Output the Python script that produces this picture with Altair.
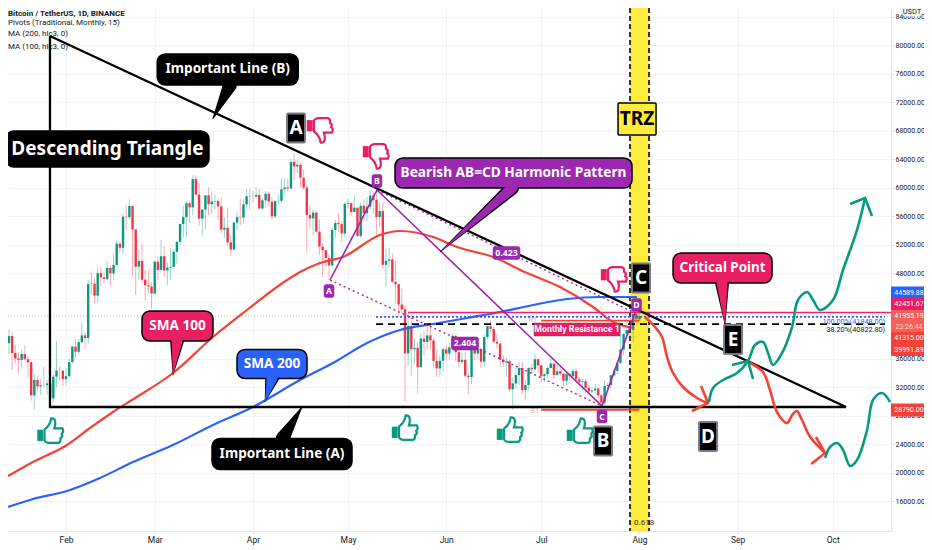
import altair as alt
import pandas as pd

FONT = "Noto Sans"
SMALL = "Roboto"
# day = days since 1 Jan (Feb 1 = 31)
MONTH_DAYS = [31, 59, 90, 120, 151, 181, 212, 243, 273]
MONTH_NAMES = ["Feb", "Mar", "Apr", "May", "Jun", "Jul", "Aug", "Sep", "Oct"]
PRICE_TICKS = list(range(16000, 84001, 4000))
FIRST_DAY = 13

CLOSE = [39150,36770,36000,35800,36620,35900,35470,30830,33000,32080,32260,32250,32500,30400,33450,34300,34300,33100,
33520,35500,37670,36950,38300,39240,38870,46450,46500,44830,47970,47400,47170,48720,47940,49130,52120,51550,55900,55840,57400,54090,48890,49700,47050,46280,46110,45130,
49590,48430,50350,48370,48750,48870,50970,52380,54880,55850,57800,57220,61180,59000,55630,56900,58910,57650,58030,58100,57350,54080,54340,52300,51300,55070,55840,55780,57630,58760,58720,
58720,58950,57050,58200,59120,58020,55950,58080,58130,59770,60000,59860,63580,62950,63200,61370,60000,56150,55660,56470,53800,51700,51190,50100,49070,54030,55030,54860,53550,57700,
57800,56570,57170,53200,57440,56390,57310,58860,58240,55850,56700,49150,49700,49900,46760,46430,43570,42900,36720,40560,37300,37500,34770,38800,38320,39240,38530,35660,34610,35680,37290,
36690,37560,39190,36890,35520,35800,33580,33400,37390,36690,37340,35550,39020,40520,40140,38350,38090,35820,35480,35600,31680,32500,33680,34660,31570,32280,34700,34490,35900,35040,
33520,33800,34670,35290,33690,34220,33860,32870,33810,33510,34260,33090,32730,32820,31880,31380,31520,31780,30840,29790,32140,32290,33640,34260,35380,37270,39460,39990,40020,42230,41500,
41955]
HIGH = [40100,39700,37950,36850,37300,37850,36400,35600,33850,33450,33100,34900,32950,32550,33780,38500,34900,34300,
34650,35950,37700,38700,38800,40950,39700,47000,48200,47300,48650,48900,48100,49700,49000,50650,52600,52450,56350,57500,58350,57500,54200,51350,52050,48400,48400,46700,
49790,50200,52650,51750,49450,51450,51400,52400,54900,57400,58150,58050,61700,61700,60600,56950,58980,60000,59450,59000,58400,58600,55800,57200,53250,55100,56600,58400,58400,59800,59800,
59500,60050,59800,58500,59500,59450,58650,58250,58870,61300,61300,61250,64000,64850,63800,63500,62500,60400,57500,57000,56700,55500,52150,51200,50600,54350,55500,56450,55200,57950,
58450,57950,58950,57200,57900,58350,58650,59500,59300,59600,57900,58000,51400,51500,50700,49800,46000,45800,43550,42450,42200,38850,38250,39500,39800,40900,40400,38900,37250,36400,37500,
37900,38200,39500,39250,37900,36800,36900,34000,37500,38400,37700,37450,39400,41050,41300,40500,39500,38200,36450,36100,35750,33300,34880,35500,35500,33000,34700,35300,36600,36000,
35050,33950,34950,35950,35300,35100,35050,33900,34100,34000,34600,34650,33350,33150,33200,32250,32000,32450,31900,31100,32850,32600,33650,34500,35400,40500,39550,40900,40650,42300,42400,
42600]
LOW = [36700,34400,35350,33850,34800,35850,33400,30070,28850,31400,30900,31900,30900,29200,29900,31950,32850,32200,
32300,33400,35350,36150,36600,38150,37350,38000,45000,43700,43900,46150,46500,47000,46200,47000,48900,50900,50700,54000,55500,47600,44900,47050,46650,44150,45050,43000,
45000,47000,48100,47500,46300,47050,49300,49300,51850,53000,53000,55000,56100,59000,54600,53200,54100,56100,56300,57000,55450,53650,52950,51700,50400,51300,53950,54700,54900,57000,56900,
57900,58500,57000,56800,57150,57350,55500,55700,57650,57800,59000,59400,59850,61000,62000,60000,59600,50900,54200,53350,53650,50500,47500,48750,47000,48800,53000,53800,52350,53000,
57000,56000,56550,53050,52900,55200,55250,56900,56250,53400,54500,48600,46000,48800,46550,43800,42100,42200,30000,35000,33500,35250,31100,34800,36400,37200,37200,34700,33400,33400,34200,
35700,35900,37200,35600,34800,35250,33300,31000,32400,35800,35900,34650,34800,38750,39500,38100,37400,34800,34800,33350,31250,28800,31700,32300,31000,30150,31600,33850,34200,34000,
32700,32700,33300,34700,33100,33550,33700,32100,32250,33000,33300,32700,32200,31550,31150,31000,31150,31100,30500,29300,29450,31700,31900,33400,33800,35250,36400,38800,38700,38300,41000,
41300]

SMA100_D = [12.69,20.58,31.31,38.57,45.83,51.83,64.77,77.40,88.13,100.75,104.86,111.17,118.43,130.11,136.42,146.84,154.42,165.78,176.51,186.93,197.35,203.66,209.97]
SMA100_P = [19509,21474,23860,26246,28492,30176,33965,39018,42808,47018,48141,49404,50246,53334,53895,53053,51649,50246,47999,46036,43228,41123,40281]
SMA200_D = [12.69,20.58,31.31,41.73,52.14,64.77,77.40,90.02,104.86,115.27,126.01,136.42,146.84,157.57,167.99,178.41,189.14,199.56,211.24]
SMA200_P = [15159,16281,17404,19229,21474,23860,26667,29194,32983,35369,38176,40001,40843,41685,42527,43509,44351,44632,44632]

TRI_D = [25.94, 25.94, 277.2, 25.94]
TRI_P = [81263, 29194, 29194, 81263]

AB_D = [114.33, 129.16, 200.19, 210.60]
AB_P = [47018, 59650, 29334, 42386]

RED1_D = [213.76,216.92,219.13,220.71,222.6,225.76,230.18,233.33]
RED1_P = [41825,40421,39018,36211,33965,32001,30457,29755]
RED1_HEAD_D = [231.45,233.65,228.6]
RED1_HEAD_P = [32141,29755,28632]
RED2_D = [246.9,251.0,253.2,255.4,258.6,260.2,261.7,263.3,265.9,270.6]
RED2_P = [35369,34106,31580,28492,26948,28071,28632,27369,24983,22737]
RED2_HEAD_D = [267.7,270.6,266.2]
RED2_HEAD_P = [24983,22737,21194]
TEAL1_D = [233.96,235.23,238.38,242.8,246.27,248.48,251.0,252.58,254.16,257.0,260.16,262.05,264.9,266.8,269.0,273.1,276.26,280.68,283.2]
TEAL1_P = [29895,31860,32983,33965,35650,37895,38316,36772,35088,36772,40421,44211,45334,44211,42808,44211,48421,54036,58525]
TEAL1_HEAD_D = [278.5,283.2,285.4]
TEAL1_HEAD_P = [57685,58525,56000]
TEAL2_HEAD_D = [241.2,246.27,247.85]
TEAL2_HEAD_P = [35088,35650,33122]
TEAL3_D = [270.6,272.2,274.4,276.26,278.5,280.68,283.84,285.73,288.57,291.1]
TEAL3_P = [22036,23580,24141,23158,20913,21755,25965,30176,31158,29895]

THUMB_UP_D = [26.10, 138.0, 171.15, 193.24]
THUMB_UP_P = [25825, 26246, 25965, 25825]
THUMB_DOWN_D = [111.17, 128.85, 203.98]
THUMB_DOWN_P = [68070, 64421, 47158]

UP, DOWN = "#089981", "#f23645"
TEAL, RED, PINK, BLUE, PURPLE = "#089981", "#f44336", "#e91e63", "#2962ff", "#9c27b0"

X_DOMAIN = [12.69, 291.4]
Y_DOMAIN = [11790, 85193]
xs = alt.Scale(domain=X_DOMAIN, nice=False, zero=False, padding=0)
ys = alt.Scale(domain=Y_DOMAIN, nice=False, zero=False, padding=0)
label_expr = "{" + ",".join(f"'{d}':'{n}'" for d, n in zip(MONTH_DAYS, MONTH_NAMES)) + "}[datum.value]"
X_AXIS = alt.Axis(values=MONTH_DAYS, labelExpr=label_expr, grid=True, gridColor="#f2f4f9", domainColor="#e0e3eb",
                  tickColor="#e0e3eb", tickSize=3, labelFontSize=8.5, labelColor="#131722", labelFont=SMALL,
                  labelPadding=1, labelFlush=False, title=None)
Y_AXIS = alt.Axis(orient="right", values=PRICE_TICKS, format=".2f", grid=True, gridColor="#f2f4f9",
                  domainColor="#e0e3eb", tickColor="#e0e3eb", tickSize=3, labelFontSize=7, labelColor="#131722",
                  labelFont=SMALL, labelPadding=1, title=None)
X = alt.X("d:Q", scale=xs, axis=X_AXIS)
Y = alt.Y("p:Q", scale=ys, axis=Y_AXIS)

def frame(ds, ps, **extra):
    df = pd.DataFrame({"d": ds, "p": ps})
    df["i"] = range(len(df))
    for k, v in extra.items():
        df[k] = v
    return df

def path(ds, ps, color, width=2.5, dash=None, interp=None, opacity=1):
    kw = dict(color=color, strokeWidth=width, opacity=opacity, clip=False)
    if dash:
        kw["strokeDash"] = dash
    if interp:
        kw["interpolate"] = interp
    return alt.Chart(frame(ds, ps)).mark_line(**kw).encode(x=X, y=Y, order="i:Q")

def text(s, d, p, color="white", size=12, bold=True, align="center", font=FONT, dx=0):
    return alt.Chart(pd.DataFrame({"d": [d], "p": [p], "t": [s]})).mark_text(
        color=color, fontSize=size, font=font, fontWeight="bold" if bold else "normal",
        align=align, baseline="middle", clip=False, dx=dx
    ).encode(x=X, y=Y, text="t:N")

def box(d, p, w, h, fill, stroke="black", sw=1.5, radius=8):
    return alt.Chart(pd.DataFrame({"d": [d], "p": [p]})).mark_rect(
        width=w, height=h, fill=fill, stroke=stroke, strokeWidth=sw, cornerRadius=radius, clip=False
    ).encode(x=X, y=Y)

def tail(base_d, base_p, tip_d, tip_p, w, fill):
    size = alt.Size("w:Q", scale=None, legend=None)
    dark = alt.Chart(frame([base_d, tip_d], [base_p, tip_p], w=[w + 3, 0.6])).mark_trail(color="black").encode(x=X, y=Y, size=size, order="i:Q")
    col = alt.Chart(frame([base_d, tip_d], [base_p, tip_p], w=[w, 0.1])).mark_trail(color=fill).encode(x=X, y=Y, size=size, order="i:Q")
    return [dark, col]

def callout(s, d, p, w, h, fill, size, tail_pts=None, tail_w=11):
    layers = []
    if tail_pts:
        layers += tail(*tail_pts, tail_w, fill)[:1]
    layers.append(box(d, p, w, h, fill))
    if tail_pts:
        layers += tail(*tail_pts, tail_w, fill)[1:]
    layers.append(text(s, d, p, size=size))
    return layers

def letter(s, d, p, w=18, h=29):
    return [box(d, p, w, h, "black", stroke="#787b86", sw=2, radius=1), text(s, d, p, size=19)]

def tag(s, d, p, w, h=13):
    return [box(d, p, w, h, PURPLE, stroke=PURPLE, sw=0.5, radius=2), text(s, d, p, size=8.7)]

def price_tag(s, p, fill, color="white", h=12):
    rect = alt.Chart(pd.DataFrame({"p": [p]})).mark_rect(
        width=33, height=h, fill=fill, clip=False
    ).encode(x=alt.value(899.5), y=Y)
    lab = alt.Chart(pd.DataFrame({"p": [p], "t": [s]})).mark_text(
        color=color, fontSize=7, font=SMALL, align="center", baseline="middle", clip=False
    ).encode(x=alt.value(901), y=Y, text="t:N")
    return [rect, lab]

THUMB_BODY_UP = "M -0.45 -0.1 C -0.2 -0.3 0 -0.5 0.05 -0.95 C 0.35 -1 0.45 -0.7 0.3 -0.2 L 0.9 -0.2 C 1 0 1 0.1 0.85 0.2 C 0.95 0.4 0.85 0.5 0.75 0.55 C 0.8 0.75 0.7 0.9 0.55 0.9 L -0.1 0.9 C -0.3 0.9 -0.45 0.75 -0.45 0.7 Z"
THUMB_CUFF_UP = "M -1 -0.1 L -0.55 -0.1 L -0.55 0.75 L -1 0.75 Z"
THUMB_BODY_DOWN = "M -0.45 0.1 C -0.2 0.3 0 0.5 0.05 0.95 C 0.35 1 0.45 0.7 0.3 0.2 L 0.9 0.2 C 1 0 1 -0.1 0.85 -0.2 C 0.95 -0.4 0.85 -0.5 0.75 -0.55 C 0.8 -0.75 0.7 -0.9 0.55 -0.9 L -0.1 -0.9 C -0.3 -0.9 -0.45 -0.75 -0.45 -0.7 Z"
THUMB_CUFF_DOWN = "M -1 0.1 L -0.55 0.1 L -0.55 -0.75 L -1 -0.75 Z"

def thumbs(ds, ps, body, cuff, color):
    df = frame(ds, ps)
    return [
        alt.Chart(df).mark_point(shape=body, size=700, filled=False, stroke=color, strokeWidth=2.2, opacity=1, clip=False).encode(x=X, y=Y),
        alt.Chart(df).mark_point(shape=cuff, size=700, filled=True, fill=color, opacity=1, clip=False).encode(x=X, y=Y),
    ]

days = list(range(FIRST_DAY, FIRST_DAY + len(CLOSE)))
opens = [CLOSE[0] - 1000] + CLOSE[:-1]
candles = pd.DataFrame({"d": days, "o": opens, "c": CLOSE, "h": HIGH, "l": LOW})
candles["up"] = candles.c >= candles.o
col = alt.Color("up:N", scale=alt.Scale(domain=[True, False], range=[UP, DOWN]), legend=None)

layers = []
# time reference zone
layers.append(alt.Chart(pd.DataFrame({"d": [209.03], "d2": [215.03]})).mark_rect(color="#ffeb3b").encode(x=X, x2="d2:Q"))
for edge in (209.03, 215.03):
    layers.append(alt.Chart(pd.DataFrame({"d": [edge]})).mark_rule(color="#333333", strokeWidth=2, strokeDash=[5, 3]).encode(x=X))
# faint last-price line
layers.append(alt.Chart(pd.DataFrame({"p": [41955]})).mark_rule(color=DOWN, strokeDash=[1, 2], strokeWidth=1, opacity=0.5).encode(y=Y))
# candles
layers.append(alt.Chart(candles).mark_rule(strokeWidth=1, opacity=0.42).encode(x=X, y=alt.Y("l:Q", scale=ys, axis=Y_AXIS), y2="h:Q", color=col))
layers.append(alt.Chart(candles).mark_bar(size=2.4, opacity=1).encode(x=X, y=alt.Y("o:Q", scale=ys, axis=Y_AXIS), y2="c:Q", color=col))
# moving averages
layers.append(path(SMA100_D, SMA100_P, "#f44336", 2.2, interp="monotone"))
layers.append(path(SMA200_D, SMA200_P, BLUE, 2.2, interp="monotone"))
# pivots and levels
layers.append(path([181, 212], [41315, 41315], RED, 1.8))
layers.append(path([181, 212], [28790, 28790], RED, 2))
layers.append(text("R1", 178.4, 41400, color="#f7a8a0", size=7.5, bold=False, font=SMALL))
layers.append(text("S1", 179.0, 28700, color="#f7a8a0", size=7.5, bold=False, font=SMALL))
layers.append(path([138.95, 291.4], [42452, 42452], "#f0226c", 1.6))
layers.append(path([128.85, 289.5], [41848, 41848], BLUE, 1.6, dash=[2, 2]))
layers.append(path([128.85, 289.5], [40823, 40823], "black", 1.6, dash=[7, 5]))
layers.append(text("100.00%(41848.00)", 289.5, 41123, color=BLUE, size=7.2, bold=False, align="right", font=SMALL))
layers.append(text("38.20%(40822.80)", 289.5, 39932, color="#131722", size=7.2, bold=False, align="right", font=SMALL))
# harmonic pattern
layers.append(path(AB_D, AB_P, PURPLE, 1.6))
layers.append(path([AB_D[0], AB_D[2]], [AB_P[0], AB_P[2]], PURPLE, 1.4, dash=[2, 3]))
layers.append(path([AB_D[1], AB_D[3]], [AB_P[1], AB_P[3]], PURPLE, 1.4, dash=[2, 3]))
# triangle
layers.append(path(TRI_D, TRI_P, "black", 2.3))
# freehand scenario
layers.append(path(RED1_D, RED1_P, RED, 2.6, interp="catmull-rom"))
layers.append(path(RED1_HEAD_D, RED1_HEAD_P, RED, 2.6))
layers.append(path(RED2_D, RED2_P, RED, 2.6, interp="catmull-rom"))
layers.append(path(RED2_HEAD_D, RED2_HEAD_P, RED, 2.6))
layers.append(path(TEAL1_D, TEAL1_P, TEAL, 2.6, interp="catmull-rom"))
layers.append(path(TEAL1_HEAD_D, TEAL1_HEAD_P, TEAL, 2.6))
layers.append(path(TEAL2_HEAD_D, TEAL2_HEAD_P, TEAL, 2.6))
layers.append(path(TEAL3_D, TEAL3_P, TEAL, 2.6, interp="catmull-rom"))
# thumbs
layers += thumbs(THUMB_UP_D, THUMB_UP_P, THUMB_BODY_UP, THUMB_CUFF_UP, TEAL)
layers += thumbs(THUMB_DOWN_D, THUMB_DOWN_P, THUMB_BODY_DOWN, THUMB_CUFF_DOWN, PINK)
# callouts
layers += callout("Descending Triangle", 44.09, 65404, 203, 36, "black", 19)
layers += callout("Important Line (B)", 82.04, 76562, 141, 31, "black", 13.6, (82.76, 74386, 77.30, 69614))
layers += callout("SMA 100", 66.19, 40562, 71, 30, PINK, 13.6, (66.03, 38457, 64.77, 33685))
layers += callout("SMA 200", 96.02, 35229, 70, 29, BLUE, 13.6, (96.02, 33264, 93.81, 29895))
layers += callout("Important Line (A)", 99.18, 22597, 140, 31, "black", 13.6, (99.49, 24843, 105.49, 29194))
layers += callout("Bearish AB=CD Harmonic Pattern", 172.25, 62035, 237, 30, PURPLE, 13.7, (171.78, 59930, 149.05, 50948))
layers += callout("Critical Point", 238.23, 48702, 99, 30, PINK, 13.4, (238.07, 46597, 239.02, 40702))
layers.append(box(211.24, 69614, 38, 32, "#ffeb3b", radius=1))
layers.append(text("TRZ", 211.24, 69614, color="black", size=19))
layers += letter("A", 103.60, 68351)
layers += letter("B", 200.50, 24422)
layers += letter("C", 212.5, 47299)
layers += letter("D", 233.65, 25053)
layers += letter("E", 241.54, 38667)
layers += tag("A", 114.01, 45474, 10)
layers += tag("B", 129.16, 60913, 10)
layers += tag("C", 200.19, 27860, 10)
layers += tag("D", 211.08, 43509, 10)
layers += tag("0.423", 170.04, 50807, 27)
layers += tag("2.404", 156.94, 38106, 27)
layers.append(box(192.30, 40071, 86, 13, PINK, stroke="#555555", sw=0.5, radius=0))
layers.append(text("Monthly Resistance 1", 192.30, 40071, size=8.8, font=SMALL))
layers.append(text("0.618", 210.3, 12914, color="#333333", size=8, bold=False, align="left", font=SMALL))
# legend text
layers.append(text("Bitcoin / TetherUS, 1D, BINANCE", 12.69, 84400, color="#131722", size=8, align="left", font=SMALL))
layers.append(text("Pivots (Traditional, Monthly, 15)", 12.69, 83088, color="#131722", size=8, bold=False, align="left", font=SMALL))
layers.append(text("MA (200, hlc3, 0)", 12.69, 81474, color="#131722", size=8, bold=False, align="left", font=SMALL))
layers.append(text("MA (100, hlc3, 0)", 12.69, 79720, color="#131722", size=8, bold=False, align="left", font=SMALL))
# right axis price tags
layers += price_tag("44589.88", 45263, BLUE)
layers += price_tag("42451.67", 43649, PINK)
layers += price_tag("41955.19", 41965, "#f6605a")
layers += price_tag("23:26:44", 40421, "#f6605a", color="#ffd9d6")
layers += price_tag("41315.00", 38878, RED)
layers += price_tag("39991.89", 37194, RED)
layers += price_tag("28790.00", 28772, RED, h=13)
layers.append(alt.Chart(pd.DataFrame({"p": [84632]})).mark_rect(width=20, height=8, fill="white", stroke="#e0e3eb", cornerRadius=3, clip=False).encode(x=alt.value(904), y=Y))
layers.append(alt.Chart(pd.DataFrame({"p": [84632], "t": ["USDT"]})).mark_text(fontSize=7.5, font=SMALL, color="#131722", baseline="middle", clip=False).encode(x=alt.value(904), y=Y, text="t:N"))

chart = alt.layer(*layers).properties(
    width=883, height=523, autosize=alt.AutoSizeParams(type="none"),
    padding={"left": 0, "top": 0, "right": 33, "bottom": 19},
    background="white",
).configure_view(stroke=None)

chart.save("out.html", embed_options={"renderer": "svg", "actions": False})
